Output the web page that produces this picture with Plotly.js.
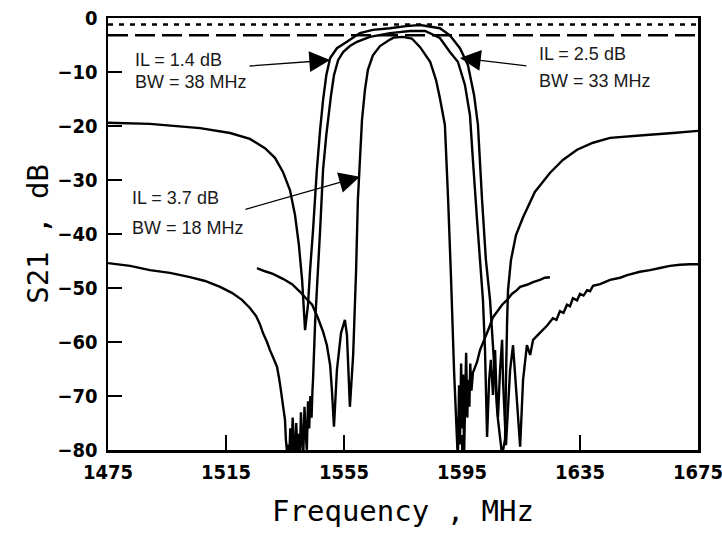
<!DOCTYPE html>
<html>
<head>
<meta charset="utf-8">
<script src="https://cdn.plot.ly/plotly-3.0.1.min.js"></script>
<style>html,body{margin:0;padding:0;background:#fff;}#chart{width:722px;height:533px;}</style>
</head>
<body>
<div id="chart"></div>
<script>
// Filter A: IL = 1.4 dB, BW = 38 MHz (widest passband, smooth stopband)
const freqA = [1475,1489.2,1506.2,1516.4,1523.1,1528.2,1531.6,1534.3,1536.7,1538.4,1539.7,1540.8,1541.4,1541.8,1542.8,1543.5,1544.5,1545.8,1546.9,1547.9,1549.0,1550.3,1552.6,1556.0,1560.4,1564.8,1570.6,1576.0,1580.8,1587.5,1590.9,1594.3,1597.0,1599.1,1600.4,1601.8,1603.1,1604.5,1605.8,1607.2,1608.6,1609.6,1609.9,1610.3,1610.6,1611.6,1613.3,1615.7,1619.7,1624.8,1629.2,1634.0,1639.4,1645.2,1656.4,1666.5,1675];
const dbA   = [-19.4,-19.6,-20.4,-21.3,-22.4,-24.1,-25.9,-28.5,-31.9,-36.5,-42.0,-48.5,-54.1,-57.8,-53.1,-46.7,-39.3,-28.1,-20.7,-15.2,-10.6,-7.4,-5.6,-4.4,-2.8,-2.2,-1.9,-1.5,-1.3,-1.9,-3.2,-5.6,-8.7,-14.3,-19.8,-33.7,-44.8,-52.2,-63.3,-74.4,-81,-78,-67,-55.9,-50.4,-44.8,-40.2,-36.9,-32.2,-28.7,-26.3,-24.4,-23.1,-22.2,-21.7,-21.3,-20.9];

// Filter B: IL = 2.5 dB, BW = 33 MHz (noisy stopband over full span)
const freqB = [1475,1482.5,1489.2,1496.0,1502.8,1507.9,1513.0,1517.0,1520.4,1523.1,1525.2,1526.5,1527.5,1528.9,1529.9,1531.3,1532.3,1533.0,1533.6,1534.3,1535.0,1535.3,1535.7,
  1536.0,1536.4,1536.8,1537.2,1537.6,1538.0,1538.4,1538.8,1539.2,1539.6,1540.0,1540.4,1540.8,1541.2,1541.6,1542.0,1542.4,1542.8,1543.2,1543.6,1544.0,1544.3,
  1544.5,1545.2,1545.8,1546.9,1547.9,1549.0,1549.6,1550.6,1551.6,1553.0,1554.7,1557.0,1559.4,1563.8,1570.6,1577.4,1582.5,1587.5,1590.9,1593.6,1596.0,1597.7,1598.7,1600.1,1601.1,1602.1,1602.8,1603.5,
  1604.2,1604.8,1605.5,1606.2,1606.9,1607.2,1607.9,1608.6,1608.9,1609.9,1611.3,1612.3,1613.6,1614.7,1615.7,1617.0,1618.1,1619.1,1621.4,1623.8,1625.8,1627.0,1628.2,1629.4,1630.6,1631.6,1632.6,1634.0,1635.0,1636.2,1637.4,1638.4,1639.4,1641.8,1645.2,1648.6,1651.0,1655.3,1658.7,1662.1,1665.5,1668.9,1672.3,1675];
const dbB   = [-45.4,-45.9,-46.7,-47.2,-48.0,-48.7,-49.8,-50.9,-52.2,-53.7,-55.2,-56.7,-58.3,-60.0,-61.5,-63.3,-64.6,-66.7,-68.9,-71.7,-74.4,-78.1,-80.4,
  -79,-82,-76,-81,-74,-79,-82,-75,-80,-77,-82,-73,-78,-81,-72,-77,-80,-71,-76,-70,-74,-69,
  -67,-56.5,-50.4,-39.3,-28.1,-21.7,-18.9,-14.3,-10.6,-7.8,-6.3,-5.2,-4.4,-3.5,-2.8,-2.4,-2.4,-3.7,-6.3,-8.1,-12.4,-18.0,-26.3,-37.4,-44.8,-52.2,-61.5,-77.6,
  -67.0,-63.3,-69.8,-61.5,-72.6,-73.9,-65.2,-59.6,-67.0,-79.1,-65.2,-60.6,-70.7,-79.4,-67.0,-60.6,-62.4,-59.6,-58.3,-57.0,-55.6,-55.9,-54.3,-54.6,-53.1,-53.4,-51.9,-52.3,-51.1,-51.4,-50.4,-50.6,-49.6,-49.3,-48.5,-48.1,-47.6,-47.0,-46.7,-46.3,-45.9,-45.7,-45.6,-45.6];

// Filter C: IL = 3.7 dB, BW = 18 MHz (narrowest, measured 1525-1625 MHz)
const freqC = [1525.5,1528.2,1530.9,1534.3,1537.4,1540.1,1542.1,1544.2,1546.2,1547.9,1549.2,1550.3,1550.9,1551.6,1552.6,1554.0,1555.3,1556.0,1557.0,1558.1,1559.1,1559.7,1560.4,1561.1,1562.1,1563.1,1564.8,1567.2,1570.6,1572.0,1575.0,1578.0,1580.8,1584.2,1586.2,1587.5,1589.2,1590.3,1591.3,1592.3,1593.3,1593.6,
  1594.0,1594.3,1594.7,1595.0,1595.4,1595.7,1596.1,1596.4,1596.8,1597.1,1597.5,1597.8,1598.2,
  1598.7,1600.1,1601.1,1602.5,1603.5,1604.5,1605.5,1606.9,1608.6,1610.3,1611.9,1613.6,1614.7,1617.0,1619.1,1621.4,1623.1,1624.8];
const dbC   = [-46.3,-46.9,-47.4,-48.3,-49.3,-50.7,-51.9,-53.1,-55.6,-58.1,-60.6,-64.3,-68.9,-75.7,-65.2,-58.3,-55.9,-58.7,-72.0,-62.4,-46.7,-33.7,-26.3,-18.9,-13.3,-9.6,-6.9,-5.2,-4.0,-3.6,-3.5,-3.8,-5.4,-8.1,-11.5,-14.8,-19.8,-33.7,-48.5,-65.2,-78.1,-82,
  -68,-79,-64,-76,-66,-81,-70,-62,-74,-67,-72,-64,-69,
  -65.7,-63.7,-61.5,-59.6,-58.3,-56.9,-55.4,-54.4,-53.1,-52.2,-51.1,-50.4,-49.8,-49.4,-48.9,-48.5,-48.1,-48.0];

// Reference levels
const refFreq = [1475, 1675];
const refDotDb = [-1.2, -1.2];
const refDashDb = [-3.2, -3.2];

const xTicks = [1475, 1515, 1555, 1595, 1635, 1675];
const yTicks = [-80, -70, -60, -50, -40, -30, -20, -10, 0];

const lineStyle = {color: '#000', width: 2.4, simplify: false};
const traces = [
  {x: refFreq, y: refDotDb, mode: 'lines', line: {color: '#000', width: 2.4, dash: '5px,6px'}, hoverinfo: 'skip'},
  {x: refFreq, y: refDashDb, mode: 'lines', line: {color: '#000', width: 2.6, dash: '20px,7px'}, hoverinfo: 'skip'},
  {x: freqA, y: dbA, mode: 'lines', line: lineStyle},
  {x: freqB, y: dbB, mode: 'lines', line: lineStyle},
  {x: freqC, y: dbC, mode: 'lines', line: lineStyle}
];

const txtFont = {family: 'Liberation Sans, Arial, sans-serif', size: 18, color: '#1a1a1a'};
function label(x, y, t) {
  return {x: x, y: y, xref: 'x', yref: 'y', text: t, showarrow: false, xanchor: 'left', yanchor: 'middle', font: txtFont};
}
function arrow(x, y, ax, ay) {
  return {x: x, y: y, xref: 'x', yref: 'y', ax: ax, ay: ay, text: '', showarrow: true,
          arrowhead: 2, arrowsize: 3.2, arrowwidth: 1.3, arrowcolor: '#000', standoff: 0, startstandoff: 0};
}

const layout = {
  width: 722, height: 533,
  margin: {l: 108, r: 24, t: 18, b: 83},
  paper_bgcolor: '#fff', plot_bgcolor: '#fff',
  showlegend: false,
  xaxis: {
    range: [1475, 1675], tickvals: xTicks, ticktext: xTicks.map(String),
    ticks: 'inside', ticklen: 15, tickwidth: 2, tickcolor: '#000',
    showline: true, linewidth: 2.5, linecolor: '#000', mirror: true,
    showgrid: false, zeroline: false, ticklabelstandoff: 2, ticklabeloverflow: 'allow',
    tickfont: {family: 'DejaVu Sans Condensed, DejaVu Sans, sans-serif', size: 20, weight: 'bold', color: '#000'},
    title: {text: 'Frequency , MHz', font: {family: 'DejaVu Sans Mono, monospace', size: 29, color: '#000'}, standoff: 18}
  },
  yaxis: {
    range: [-80, 0], tickvals: yTicks,
    ticks: 'inside', ticklen: 14, tickwidth: 2, tickcolor: '#000',
    showline: true, linewidth: 2.5, linecolor: '#000', mirror: true,
    showgrid: false, zeroline: false, ticklabelstandoff: 4, ticklabeloverflow: 'allow',
    tickfont: {family: 'DejaVu Sans Condensed, DejaVu Sans, sans-serif', size: 20, weight: 'bold', color: '#000'},
    title: {text: 'S21 , dB', font: {family: 'DejaVu Sans Mono, monospace', size: 29, color: '#000'}, standoff: 0}
  },
  annotations: [
    label(1483.5, -7.8, 'IL = 1.4 dB'),
    label(1483.5, -11.9, 'BW = 38 MHz'),
    label(1620.4, -6.7, 'IL = 2.5 dB'),
    label(1620.4, -11.7, 'BW = 33 MHz'),
    label(1482.5, -33.3, 'IL = 3.7 dB'),
    label(1482.5, -38.9, 'BW = 18 MHz'),
    arrow(1550.3, -7.8, -82, 6),
    arrow(1594.3, -7.4, 68, 8),
    arrow(1560.4, -29.4, -116, 33)
  ]
};

Plotly.newPlot('chart', traces, layout, {staticPlot: true, displayModeBar: false});
</script>
</body>
</html>
